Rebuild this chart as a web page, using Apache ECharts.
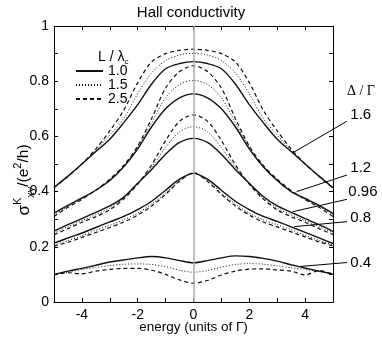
<!DOCTYPE html>
<html>
<head>
<meta charset="utf-8">
<script src="https://cdn.jsdelivr.net/npm/echarts@6/dist/echarts.min.js"></script>
<style>
html, body { margin: 0; padding: 0; background: #fff; }
#myChart { width: 382px; height: 338px; }
</style>
</head>
<body>
<div id="myChart"></div>
<script>
// energy in units of Γ
var energy = [-5, -4.5, -4, -3.5, -3, -2.5, -2, -1.5, -1, -0.5, 0, 0.5, 1, 1.5, 2, 2.5, 3, 3.5, 4, 4.5, 5];
var lengthRatios = ['1.0', '1.5', '2.5'];
var deltaRatios = ['1.6', '1.2', '0.96', '0.8', '0.4'];
var xTicks = [-4, -2, 0, 2, 4];
var yTicks = [0, 0.2, 0.4, 0.6, 0.8, 1];

// Δ/Γ = 1.6
var d16_l10 = [0.415, 0.456, 0.500, 0.545, 0.590, 0.650, 0.715, 0.790, 0.845, 0.864, 0.871, 0.864, 0.845, 0.790, 0.715, 0.650, 0.590, 0.545, 0.500, 0.456, 0.414];
var d16_l15 = [0.415, 0.456, 0.500, 0.550, 0.605, 0.665, 0.755, 0.830, 0.875, 0.895, 0.901, 0.895, 0.875, 0.830, 0.755, 0.665, 0.605, 0.550, 0.500, 0.456, 0.414];
var d16_l25 = [0.414, 0.455, 0.500, 0.555, 0.620, 0.695, 0.795, 0.870, 0.900, 0.912, 0.916, 0.912, 0.900, 0.870, 0.795, 0.695, 0.620, 0.555, 0.500, 0.455, 0.413];
// Δ/Γ = 1.2
var d12_l10 = [0.322, 0.350, 0.377, 0.405, 0.440, 0.490, 0.555, 0.635, 0.700, 0.740, 0.754, 0.740, 0.700, 0.635, 0.555, 0.490, 0.440, 0.400, 0.375, 0.350, 0.321];
var d12_l15 = [0.316, 0.347, 0.375, 0.405, 0.443, 0.492, 0.560, 0.650, 0.740, 0.788, 0.803, 0.788, 0.740, 0.650, 0.560, 0.492, 0.443, 0.402, 0.373, 0.347, 0.316];
var d12_l25 = [0.310, 0.343, 0.372, 0.405, 0.445, 0.495, 0.565, 0.665, 0.775, 0.835, 0.856, 0.835, 0.775, 0.665, 0.565, 0.495, 0.445, 0.404, 0.371, 0.343, 0.310];
// Δ/Γ = 0.96
var d096_l10 = [0.257, 0.280, 0.302, 0.325, 0.348, 0.380, 0.430, 0.480, 0.535, 0.578, 0.593, 0.578, 0.535, 0.480, 0.430, 0.382, 0.348, 0.325, 0.302, 0.280, 0.256];
var d096_l15 = [0.250, 0.273, 0.295, 0.316, 0.340, 0.377, 0.428, 0.488, 0.560, 0.617, 0.635, 0.617, 0.560, 0.488, 0.428, 0.377, 0.340, 0.316, 0.295, 0.273, 0.250];
var d096_l25 = [0.244, 0.266, 0.289, 0.309, 0.334, 0.373, 0.427, 0.497, 0.585, 0.655, 0.678, 0.655, 0.585, 0.497, 0.427, 0.373, 0.334, 0.309, 0.289, 0.266, 0.244];
// Δ/Γ = 0.8
var d08_l10 = [0.213, 0.232, 0.250, 0.270, 0.290, 0.310, 0.335, 0.365, 0.405, 0.445, 0.466, 0.445, 0.405, 0.365, 0.335, 0.310, 0.292, 0.272, 0.252, 0.232, 0.212];
var d08_l15 = [0.207, 0.222, 0.240, 0.260, 0.278, 0.298, 0.322, 0.355, 0.395, 0.440, 0.466, 0.440, 0.395, 0.355, 0.322, 0.298, 0.280, 0.262, 0.242, 0.223, 0.207];
var d08_l25 = [0.203, 0.216, 0.234, 0.252, 0.270, 0.290, 0.315, 0.348, 0.390, 0.437, 0.468, 0.437, 0.390, 0.348, 0.315, 0.290, 0.272, 0.254, 0.236, 0.218, 0.203];
// Δ/Γ = 0.4
var d04_l10 = [0.100, 0.112, 0.122, 0.133, 0.145, 0.152, 0.160, 0.165, 0.160, 0.150, 0.142, 0.150, 0.160, 0.167, 0.165, 0.158, 0.148, 0.135, 0.123, 0.112, 0.101];
var d04_l15 = [0.100, 0.108, 0.118, 0.125, 0.132, 0.137, 0.138, 0.136, 0.128, 0.115, 0.108, 0.114, 0.126, 0.136, 0.139, 0.137, 0.131, 0.124, 0.118, 0.110, 0.103];
var d04_l25 = [0.098, 0.106, 0.102, 0.112, 0.118, 0.122, 0.122, 0.115, 0.100, 0.080, 0.068, 0.078, 0.098, 0.112, 0.119, 0.120, 0.116, 0.112, 0.098, 0.114, 0.100];

var curves = [
  [d16_l10, d16_l15, d16_l25],
  [d12_l10, d12_l15, d12_l25],
  [d096_l10, d096_l15, d096_l25],
  [d08_l10, d08_l15, d08_l25],
  [d04_l10, d04_l15, d04_l25]
];

// leader lines for the Δ/Γ labels (data coordinates)
var leaderFrom = [[3.55, 0.54], [3.7, 0.40], [3.55, 0.327], [3.6, 0.273], [3.73, 0.128]];
var leaderTo = [[5.5, 0.655], [5.5, 0.46], [5.5, 0.372], [5.5, 0.291], [5.5, 0.143]];
var labelAt = [[5.62, 0.678], [5.62, 0.486], [5.55, 0.399], [5.62, 0.304], [5.62, 0.141]];

var lineTypes = ['solid', [1, 2], [4, 3]];
var lineWidths = [1.4, 1, 1.2];

var myChart = echarts.init(document.getElementById('myChart'));

var series = [];
curves.forEach(function (group, gi) {
  group.forEach(function (vals, li) {
    series.push({
      name: lengthRatios[li],
      type: 'line',
      symbol: 'none',
      smooth: 0.3,
      silent: true,
      data: energy.map(function (e, i) { return [e, vals[i]]; }),
      itemStyle: { color: '#111' },
      lineStyle: { color: '#111', width: lineWidths[li], type: lineTypes[li] }
    });
  });
});
series.push({
  type: 'line',
  data: [],
  silent: true,
  z: 1,
  markLine: {
    silent: true,
    symbol: 'none',
    label: { show: false },
    lineStyle: { color: '#aaa', type: 'solid', width: 1.5 },
    data: [{ xAxis: 0 }]
  }
});

var tickStyle = { show: true, inside: true, length: 4, lineStyle: { color: '#000' } };
var axisLineStyle = { show: true, onZero: false, lineStyle: { color: '#000', width: 1 } };

myChart.setOption({
  animation: false,
  textStyle: { fontFamily: 'Liberation Sans, Arial, sans-serif' },
  title: [
    {
      text: 'Hall conductivity',
      left: 'center',
      top: 0,
      textStyle: { fontSize: 15, fontWeight: 'normal', color: '#000' }
    },
    {
      text: '{a|L / λ}{b|c}',
      left: 93,
      top: 43,
      textStyle: {
        fontWeight: 'normal',
        rich: {
          a: { fontSize: 14, color: '#000', fontWeight: 'normal', lineHeight: 18 },
          b: { fontSize: 8, color: '#000', fontWeight: 'normal', verticalAlign: 'bottom', lineHeight: 12 }
        }
      }
    }
  ],
  legend: {
    data: lengthRatios,
    orient: 'vertical',
    left: 70,
    top: 59,
    itemWidth: 27,
    itemHeight: 14,
    itemGap: 0,
    itemStyle: { opacity: 0 },
    textStyle: { fontSize: 14, color: '#000' }
  },
  grid: { left: 54, right: 49, top: 26, bottom: 36, containLabel: false, outerBoundsMode: 'none' },
  xAxis: [
    {
      type: 'value',
      min: -5,
      max: 5,
      interval: 1,
      axisLine: axisLineStyle,
      axisTick: tickStyle,
      splitLine: { show: false },
      axisLabel: {
        fontSize: 14,
        color: '#000',
        margin: 6,
        formatter: function (v) { return xTicks.indexOf(v) >= 0 ? String(v) : ''; }
      },
      name: 'energy (units of Γ)',
      nameLocation: 'middle',
      nameGap: 18,
      nameMoveOverlap: false,
      nameTextStyle: { fontSize: 13.5, color: '#000' }
    },
    {
      type: 'value',
      position: 'top',
      min: -5,
      max: 5,
      interval: 1,
      axisLine: axisLineStyle,
      axisTick: tickStyle,
      splitLine: { show: false },
      axisLabel: { show: false }
    }
  ],
  yAxis: [
    {
      type: 'value',
      min: 0,
      max: 1,
      interval: 0.1,
      axisLine: axisLineStyle,
      axisTick: tickStyle,
      splitLine: { show: false },
      axisLabel: {
        fontSize: 14,
        color: '#000',
        margin: 5,
        formatter: function (v) {
          var k = Math.round(v * 10) / 10;
          return yTicks.indexOf(k) >= 0 ? String(k) : '';
        }
      },
      name: '{g|σ}{sup|K}{sub|xy}{t|/(e}{sup|2}{t|/h)}',
      nameLocation: 'middle',
      nameGap: 18,
      nameMoveOverlap: false,
      nameTextStyle: {
        padding: [0, 32, 0, 0],
        rich: {
          g: { fontSize: 17, color: '#000', lineHeight: 24 },
          t: { fontSize: 15.5, color: '#000', lineHeight: 24 },
          sup: { fontSize: 11, color: '#000', verticalAlign: 'top', lineHeight: 13 },
          sub: { fontSize: 11, color: '#000', verticalAlign: 'bottom', lineHeight: 13 }
        }
      }
    },
    {
      type: 'value',
      position: 'right',
      min: 0,
      max: 1,
      interval: 0.1,
      axisLine: axisLineStyle,
      axisTick: tickStyle,
      splitLine: { show: false },
      axisLabel: { show: false }
    }
  ],
  series: series
});

// Δ/Γ annotations, placed through the axes
var graphics = [];
var head = myChart.convertToPixel({ xAxisIndex: 0, yAxisIndex: 0 }, [5.5, 0.765]);
graphics.push({
  type: 'text',
  x: head[0], y: head[1],
  style: { text: 'Δ / Γ', fill: '#000', fontSize: 14, fontFamily: 'Liberation Serif, serif', verticalAlign: 'middle' }
});
deltaRatios.forEach(function (d, i) {
  var p1 = myChart.convertToPixel({ xAxisIndex: 0, yAxisIndex: 0 }, leaderFrom[i]);
  var p2 = myChart.convertToPixel({ xAxisIndex: 0, yAxisIndex: 0 }, leaderTo[i]);
  var pt = myChart.convertToPixel({ xAxisIndex: 0, yAxisIndex: 0 }, labelAt[i]);
  graphics.push({
    type: 'line',
    shape: { x1: p1[0], y1: p1[1], x2: p2[0], y2: p2[1] },
    style: { stroke: '#000', lineWidth: 1 }
  });
  graphics.push({
    type: 'text',
    x: pt[0], y: pt[1],
    style: { text: d, fill: '#000', fontSize: 15, verticalAlign: 'middle', fontFamily: 'Liberation Sans, Arial, sans-serif' }
  });
});
myChart.setOption({ graphic: graphics });
</script>
</body>
</html>
